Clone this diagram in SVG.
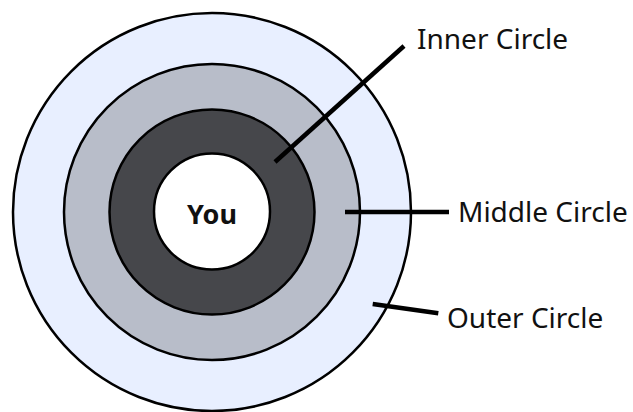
<svg xmlns="http://www.w3.org/2000/svg" width="633" height="412" viewBox="0 0 633 412">
<style>
.ring{stroke:#000;stroke-width:2.5}
.lbl{font-family:"Noto Sans",sans-serif;font-size:28px;fill:#111}
.you{font-family:"Noto Sans",sans-serif;font-size:27px;font-weight:bold;fill:#111}
.ln{stroke:#000;stroke-width:4.5;stroke-linecap:butt}
</style>
<rect width="633" height="412" fill="#fff"/>
<g id="outer"><circle class="ring" cx="212" cy="212" r="199" fill="#e8efff"/></g>
<g id="middle"><circle class="ring" cx="212" cy="212" r="148" fill="#b8bdc9"/></g>
<g id="inner"><circle class="ring" cx="212" cy="212" r="102.5" fill="#46474b"/></g>
<g id="you"><circle class="ring" cx="212" cy="211.5" r="58" fill="#fff"/><text class="you" x="212" y="224" text-anchor="middle">You</text></g>
<g id="connectors">
<line class="ln" x1="275" y1="162" x2="404" y2="46"/>
<line class="ln" x1="345" y1="212" x2="449" y2="212"/>
<line class="ln" x1="372.7" y1="304" x2="438.3" y2="313.3"/>
</g>
<g id="labels">
<text class="lbl" x="417" y="49">Inner Circle</text>
<text class="lbl" x="458" y="222">Middle Circle</text>
<text class="lbl" x="447" y="328">Outer Circle</text>
</g>
</svg>
